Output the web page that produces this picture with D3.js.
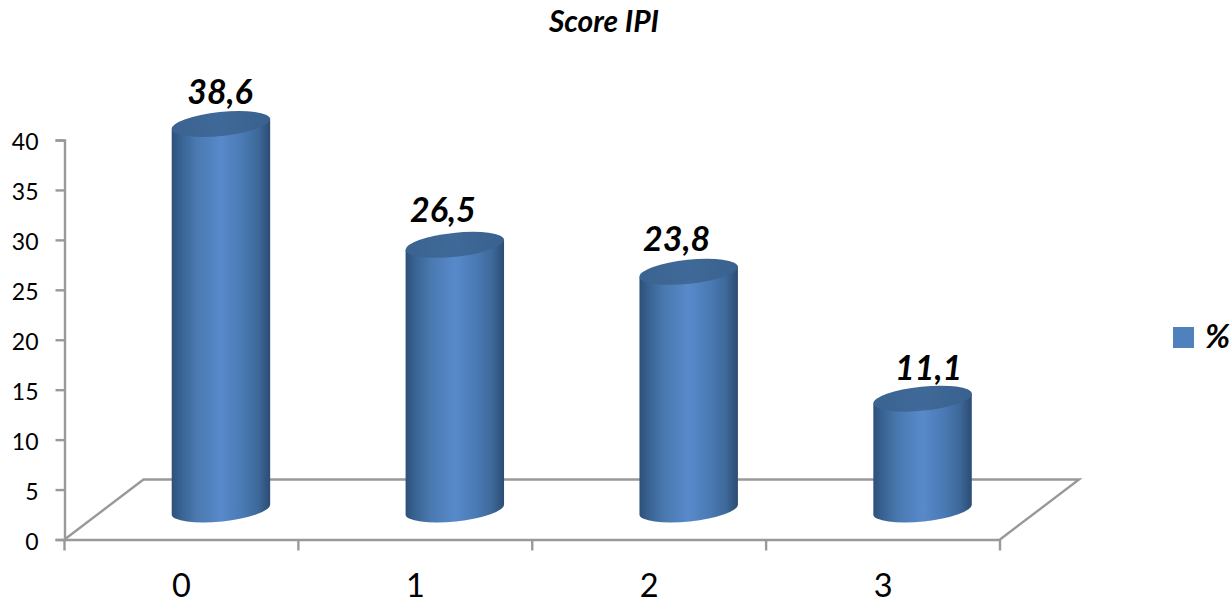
<!DOCTYPE html>
<html>
<head>
<meta charset="utf-8">
<script src="https://cdn.jsdelivr.net/npm/d3@7/dist/d3.min.js"></script>
<style>
html,body{margin:0;padding:0;background:#fff}
svg{display:block}
text{font-family:Lato,"Open Sans",sans-serif;fill:#000}
</style>
</head>
<body>
<svg id="chart" width="1231" height="604"></svg>
<script>
// Score IPI distribution, drawn as cylinders standing on a perspective floor
const categories = ["0", "1", "2", "3"];
const percentages = [38.6, 26.5, 23.8, 11.1];
const valueLabels = ["38,6", "26,5", "23,8", "11,1"];
const valueTicks = [0, 5, 10, 15, 20, 25, 30, 35, 40];
const chartTitle = "Score IPI";
const legendLabel = "%";

// Hand placement of the value labels relative to each cylinder's lid
const labelNudgeX = [-1, -12, -12, 6];
const labelNudgeY = [-20, -23, -21, -19];

const svg = d3.select("#chart");
const axisColor = "#999999";
const axisWidth = 2.4;

const frontLeft = 64.5, frontRight = 1000, frontY = 539.5;
const depthX = 79, depthY = 60;          // floor offset, front edge to back edge
const x = d3.scaleBand().domain(categories).range([frontLeft, frontRight]);
const y = d3.scaleLinear().domain([0, 40]).range([frontY, 140]);

// Shading across the cylinder body
const defs = svg.append("defs");
const body = defs.append("linearGradient").attr("id", "cylinderBody");
[[0, "#2d5079"], [0.08, "#36608e"], [0.25, "#4a79b0"], [0.5, "#5889ca"],
 [0.72, "#4a7ab4"], [0.88, "#3d6899"], [1, "#2c4c73"]].forEach(([o, c]) =>
  body.append("stop").attr("offset", o).attr("stop-color", c));

const lid = defs.append("linearGradient").attr("id", "cylinderTop");
[[0, "#3a6391"], [0.5, "#3f6998"], [1, "#3a618e"]].forEach(([o, c]) =>
  lid.append("stop").attr("offset", o).attr("stop-color", c));

// Floor outline
svg.append("path")
  .attr("fill", "none").attr("stroke", axisColor).attr("stroke-width", axisWidth)
  .attr("d", d3.line()([
    [frontLeft, frontY],
    [frontLeft + depthX, frontY - depthY],
    [frontRight + depthX, frontY - depthY],
    [frontRight, frontY]
  ]));

// Axes
const yAxis = svg.append("g")
  .attr("transform", `translate(${frontLeft},0)`)
  .call(d3.axisLeft(y).tickValues(valueTicks).tickSize(9).tickPadding(17));
yAxis.selectAll("text").attr("font-size", 23).attr("dy", "0.42em").attr("fill", "#000");

const xAxis = svg.append("g")
  .attr("transform", `translate(0,${frontY})`)
  .call(d3.axisBottom(x).tickValues([]).tickSizeOuter(0));

// Category separators on the front edge
xAxis.selectAll("line.sep")
  .data(d3.range(categories.length + 1))
  .join("line")
  .attr("class", "sep")
  .attr("x1", i => frontLeft + i * x.step())
  .attr("x2", i => frontLeft + i * x.step())
  .attr("y1", 0).attr("y2", 11);

svg.selectAll(".domain, .tick line, line.sep")
  .attr("stroke", axisColor).attr("stroke-width", axisWidth);

svg.append("g").selectAll("text")
  .data(categories)
  .join("text")
  .attr("x", d => x(d) + x.bandwidth() / 2)
  .attr("y", 597)
  .attr("text-anchor", "middle")
  .attr("font-size", 32.5)
  .text(d => d);

// Cylinders
const rx = 49.5, ry = 12, tilt = -6;
const tiltRad = tilt * Math.PI / 180;
const ex = rx * Math.cos(tiltRad), ey = rx * Math.sin(tiltRad);
const baseShiftX = depthX / 2, baseShiftY = depthY / 2;

const bars = svg.append("g").selectAll("g")
  .data(categories.map((c, i) => ({c, i, v: percentages[i], label: valueLabels[i]})))
  .join("g")
  .attr("transform", d => `translate(${x(d.c) + x.bandwidth() / 2 + baseShiftX},${frontY - baseShiftY})`);

const barHeight = v => y(0) - y(v);

bars.append("path")
  .attr("fill", "url(#cylinderBody)")
  .attr("d", d => {
    const h = barHeight(d.v);
    return `M${-ex},${-ey - h} L${ex},${ey - h} L${ex},${ey}` +
      ` A${rx},${ry} ${tilt} 0 1 ${-ex},${-ey} Z`;
  });

bars.append("ellipse")
  .attr("rx", rx).attr("ry", ry)
  .attr("fill", "url(#cylinderTop)")
  .attr("transform", d => `translate(0,${-barHeight(d.v)}) rotate(${tilt})`);

bars.append("text")
  .attr("x", d => labelNudgeX[d.i])
  .attr("y", d => -barHeight(d.v) + labelNudgeY[d.i])
  .attr("text-anchor", "middle")
  .attr("font-size", 34)
  .attr("font-weight", 700)
  .attr("font-style", "italic")
  .text(d => d.label);

// Title
svg.append("text")
  .attr("x", 604).attr("y", 32)
  .attr("text-anchor", "middle")
  .attr("font-size", 30)
  .attr("font-weight", 700)
  .attr("font-style", "italic")
  .text(chartTitle);

// Legend
svg.append("rect")
  .attr("x", 1173).attr("y", 327).attr("width", 21).attr("height", 21)
  .attr("fill", "#4f81bd");
svg.append("text")
  .attr("x", 1205).attr("y", 348)
  .attr("font-size", 33)
  .attr("font-weight", 700)
  .attr("font-style", "italic")
  .text(legendLabel);
</script>
</body>
</html>
